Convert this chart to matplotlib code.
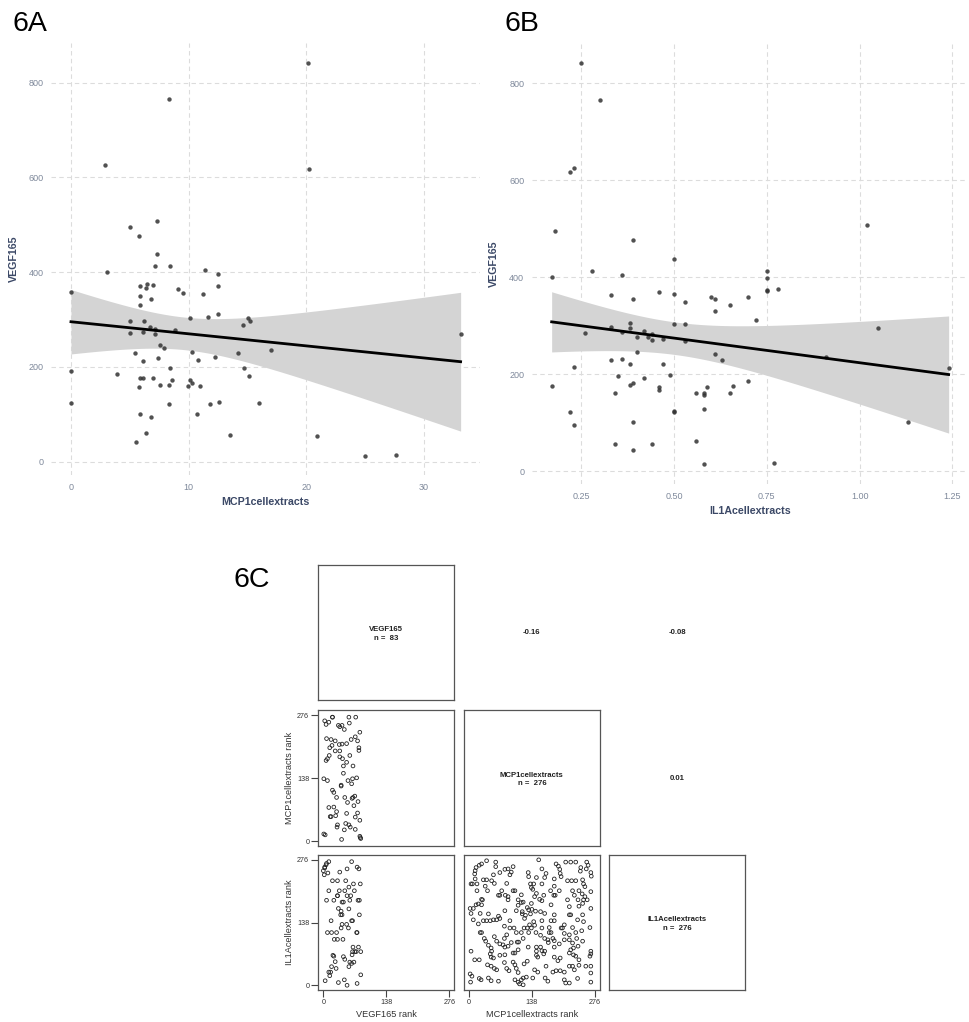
import numpy as np
import matplotlib
matplotlib.use("Agg")
import matplotlib.pyplot as plt

plt.rcParams['font.family'] = ['Liberation Sans', 'DejaVu Sans']

# ---------------- data ----------------
# 6A: MCP1cellextracts vs VEGF165
a_mcp1 = [20.1, 8.3, 2.9, 20.2, 7.3, 5.0, 5.8, 7.3, 7.1, 8.4, 11.4, 3.1, 12.5, 7.0, 6.5, 5.9,
          12.5, 6.4, 9.1, 0.0, 9.5, 11.2, 5.9, 6.8, 5.9, 12.5, 10.1, 11.6, 15.0, 15.2, 5.0, 6.2,
          14.6, 6.7, 7.1, 8.8, 6.1, 5.0, 7.1, 33.1, 7.6, 7.9, 5.4, 10.3, 14.2, 17.0, 7.4, 12.2,
          6.1, 10.8, 8.4, 0.0, 3.9, 14.7, 5.9, 6.1, 7.0, 8.6, 10.1, 10.3, 15.1, 5.8, 7.6, 8.3,
          9.9, 11.0, 0.0, 8.3, 11.8, 12.6, 16.0, 5.9, 10.7, 6.8, 6.4, 13.5, 20.9, 5.5, 25.0, 27.6]
a_vegf = [842, 766, 627, 618, 508, 495, 476, 438, 413, 413, 405, 400, 397, 374, 376, 370,
          370, 366, 364, 359, 357, 354, 350, 343, 331, 312, 303, 305, 303, 298, 296, 296,
          288, 284, 281, 277, 274, 272, 269, 270, 246, 241, 230, 231, 229, 235, 219, 222,
          212, 214, 198, 191, 186, 197, 176, 176, 177, 172, 172, 167, 182, 158, 162, 162,
          159, 159, 125, 121, 121, 127, 124, 101, 101, 94, 61, 56, 55, 42, 13, 15]

# 6B: IL1Acellextracts vs VEGF165
b_il1a = [0.25, 0.30, 0.22, 0.23, 1.02, 0.18, 0.39, 0.50, 0.75, 0.28, 0.36, 0.17, 0.75, 0.78,
          0.75, 0.75, 0.46, 0.33, 0.50, 0.60, 0.70, 0.61, 0.39, 0.53, 0.65, 0.61, 0.72, 0.38,
          0.50, 0.53, 1.05, 0.33, 0.38, 0.26, 0.42, 0.36, 0.44, 0.40, 0.43, 0.44, 0.47, 0.53,
          0.40, 0.61, 0.63, 0.33, 0.36, 0.47, 0.38, 0.91, 0.23, 1.24, 0.35, 0.49, 0.42, 0.70,
          0.39, 0.38, 0.17, 0.46, 0.46, 0.66, 0.59, 0.34, 0.56, 0.58, 0.58, 0.65, 0.50, 0.50,
          0.58, 0.22, 0.23, 0.39, 1.13, 0.56, 0.34, 0.44, 0.39, 0.58, 0.77]
b_vegf = [841, 766, 618, 626, 508, 495, 476, 438, 413, 413, 405, 400, 398, 376, 374, 371,
          370, 364, 365, 359, 359, 354, 356, 349, 343, 331, 312, 305, 303, 303, 296, 297,
          296, 285, 288, 287, 282, 277, 277, 270, 272, 269, 246, 241, 230, 229, 232, 221,
          220, 235, 214, 213, 197, 199, 191, 186, 182, 177, 176, 173, 167, 176, 173, 162,
          160, 162, 156, 160, 124, 121, 127, 121, 94, 102, 102, 61, 55, 56, 43, 14, 16]

# 6C: rank scatter matrix
rank_ticks = [0, 138, 276]
rank_max = 276
c_vars = ['VEGF165', 'MCP1cellextracts', 'IL1Acellextracts']
c_n = [83, 276, 276]
c_corr = {(0, 1): '-0.16', (0, 2): '-0.08', (1, 2): '0.01'}

# VEGF165 rank (x) vs MCP1cellextracts rank (y)
lm_x = [20, 20, 56, 71, 3, 6, 12, 33, 41, 36, 57, 46, 80, 7, 17, 26, 70, 61, 51, 75,
        35, 41, 19, 14, 78, 78, 26, 36, 13, 58, 9, 36, 42, 6, 51, 44, 65, 44, 1, 9,
        54, 64, 73, 39, 39, 62, 20, 23, 29, 47, 69, 65, 63, 53, 76, 67, 12, 23, 29, 15,
        17, 27, 51, 75, 70, 80, 49, 56, 59, 31, 30, 46, 70, 1, 4, 40, 80, 81, 82]
lm_y = [272, 272, 272, 272, 264, 256, 261, 254, 254, 251, 259, 245, 239, 225, 223, 220, 229, 223, 214, 220,
        212, 213, 210, 205, 205, 199, 198, 198, 188, 188, 181, 185, 181, 177, 173, 165, 165, 149, 137, 133,
        133, 137, 139, 123, 121, 126, 112, 107, 96, 96, 99, 96, 94, 85, 87, 78, 74, 75, 65, 54,
        54, 56, 61, 62, 53, 46, 39, 36, 31, 36, 31, 25, 26, 16, 14, 4, 11, 8, 6]

# VEGF165 rank (x) vs IL1Acellextracts rank (y)
lb_x = [12, 7, 6, 3, 3, 0, 2, 10, 36, 52, 62, 74, 78, 20, 31, 49, 66, 81, 56, 12,
        35, 47, 68, 31, 31, 52, 60, 7, 23, 41, 44, 58, 76, 79, 33, 56, 39, 38, 41, 79,
        17, 62, 64, 41, 51, 39, 55, 9, 18, 29, 73, 74, 24, 31, 43, 65, 77, 64, 69, 72,
        82, 63, 21, 23, 44, 47, 26, 58, 67, 62, 56, 18, 28, 12, 16, 14, 4, 33, 46, 52, 74, 82]
lb_y = [272, 268, 265, 260, 258, 252, 243, 247, 249, 256, 272, 260, 256, 230, 230, 230, 223, 223, 216, 208,
        208, 208, 208, 197, 197, 197, 197, 187, 187, 183, 183, 187, 187, 187, 169, 168, 163, 155, 155, 155,
        142, 142, 142, 134, 134, 126, 126, 116, 116, 116, 116, 116, 101, 101, 101, 84, 84, 74, 74, 74,
        74, 67, 66, 64, 63, 57, 52, 51, 51, 48, 41, 41, 37, 29, 29, 21, 10, 6, 12, 0, 4, 23]

# MCP1cellextracts rank (x) vs IL1Acellextracts rank (y)
mb_x = [153, 39, 59, 212, 223, 234, 258, 191, 28, 23, 16, 59, 97, 196, 261, 86, 79, 160, 257, 199,
        245, 14, 13, 68, 130, 93, 54, 90, 200, 267, 244, 169, 268, 131, 148, 166, 14, 32, 39, 50,
        187, 216, 225, 234, 249, 202, 5, 8, 18, 56, 83, 135, 142, 160, 251, 36, 137, 187, 254, 41,
        18, 72, 97, 101, 140, 179, 198, 227, 241, 148, 267, 65, 68, 80, 86, 115, 144, 164, 186, 189,
        231, 248, 254, 28, 30, 86, 108, 115, 119, 155, 160, 216, 239, 251, 259, 137, 249, 16, 21, 28,
        108, 128, 131, 138, 180, 220, 241, 267, 3, 10, 79, 104, 146, 157, 5, 25, 43, 117, 117, 124,
        166, 187, 220, 223, 249, 65, 135, 10, 32, 39, 47, 54, 61, 68, 90, 122, 142, 160, 180, 187,
        238, 251,
        21, 90, 99, 121, 128, 137, 133, 144, 160, 176, 202, 205, 227, 209, 265, 78, 25, 28, 56, 83,
        104, 115, 131, 147, 157, 176, 180, 209, 220, 234, 247, 34, 37, 61, 78, 68, 93, 106, 109, 119,
        166, 173, 184, 187, 209, 220, 236, 249, 198, 227, 174, 43, 49, 75, 79, 86, 130, 148, 157, 160,
        166, 148, 187, 223, 229, 239, 108, 101, 50, 5, 13, 23, 47, 49, 54, 68, 79, 97, 128, 148,
        151, 164, 187, 195, 200, 220, 229, 234, 241, 267, 267, 265, 41, 49, 56, 61, 78, 97, 101, 104,
        83, 88, 121, 144, 151, 169, 184, 191, 200, 209, 220, 227, 231, 241, 256, 267, 108, 3, 7, 23,
        27, 43, 49, 65, 101, 108, 115, 119, 126, 111, 119, 140, 167, 173, 209, 212, 220, 238, 267, 267,
        4]
mb_y = [276, 274, 271, 271, 271, 271, 271, 267, 267, 264, 259, 261, 261, 262, 264, 256, 255, 256, 256, 255,
        259, 252, 245, 248, 248, 249, 243, 243, 246, 248, 251, 246, 240, 239, 237, 237, 234, 232, 232, 230,
        234, 230, 230, 230, 232, 239, 223, 223, 223, 224, 224, 223, 223, 223, 223, 218, 215, 218, 217, 208,
        208, 208, 208, 208, 211, 208, 208, 208, 208, 202, 206, 198, 198, 198, 195, 199, 195, 198, 198, 198,
        198, 201, 195, 189, 188, 188, 188, 182, 183, 189, 186, 188, 188, 188, 188, 180, 180, 177, 179, 177,
        176, 171, 166, 167, 177, 173, 174, 169, 169, 169, 164, 164, 163, 162, 158, 158, 157, 162, 157, 154,
        158, 155, 155, 155, 155, 152, 157, 144, 142, 142, 142, 144, 144, 147, 142, 147, 140, 142, 142, 142,
        144, 140,
        135, 126, 126, 126, 126, 126, 133, 132, 126, 127, 126, 126, 127, 133, 127, 130, 116, 116, 107, 111,
        116, 116, 116, 116, 110, 116, 116, 114, 111, 116, 120, 103, 97, 97, 103, 91, 94, 95, 95, 103,
        103, 100, 103, 98, 100, 100, 103, 97, 91, 93, 94, 88, 82, 89, 84, 86, 84, 84, 84, 76,
        75, 75, 84, 78, 82, 86, 78, 71, 75, 75, 56, 56, 69, 62, 60, 66, 67, 71, 53, 66,
        62, 69, 62, 54, 60, 71, 67, 64, 56, 75, 69, 64, 45, 42, 37, 34, 50, 51, 45, 37,
        37, 32, 47, 34, 29, 42, 29, 32, 32, 29, 42, 42, 34, 44, 42, 42, 28, 25, 20, 15,
        12, 16, 10, 9, 12, 7, 12, 16, 18, 3, 1, 16, 16, 9, 12, 5, 5, 15, 27, 7,
        7]

# ---------------- figure ----------------
W, H = 970, 1022
fig = plt.figure(figsize=(W / 100, H / 100), dpi=100)


def px_axes(l, t, r, b):
    return fig.add_axes([l / W, 1 - b / H, (r - l) / W, (b - t) / H])


TITLE_C = '#3b4866'
TICK_C = '#7f899b'
GRID_C = '#dcdcdc'


def gg_panel(ax, x, y, xticks, xticklabels, yticks, xlabel, ylabel, t_crit=1.99):
    x = np.asarray(x, float)
    y = np.asarray(y, float)
    n = len(x)
    b1, b0 = np.polyfit(x, y, 1)
    resid = y - (b0 + b1 * x)
    s = np.sqrt(np.sum(resid ** 2) / (n - 2))
    xs = np.linspace(x.min(), x.max(), 100)
    yhat = b0 + b1 * xs
    se = s * np.sqrt(1 / n + (xs - x.mean()) ** 2 / np.sum((x - x.mean()) ** 2))
    lo, hi = yhat - t_crit * se, yhat + t_crit * se

    xmin, xmax = x.min(), x.max()
    ymin, ymax = min(y.min(), lo.min()), max(y.max(), hi.max())
    dx, dy = (xmax - xmin) * 0.05, (ymax - ymin) * 0.05
    ax.set_xlim(xmin - dx, xmax + dx)
    ax.set_ylim(ymin - dy, ymax + dy)

    ax.fill_between(xs, lo, hi, color='#d4d4d4', lw=0, zorder=1)
    ax.scatter(x, y, s=10, color='#333333', alpha=0.85, lw=0, zorder=3)
    ax.plot(xs, yhat, color='black', lw=2.0, zorder=4)

    ax.set_xticks(xticks)
    ax.set_xticklabels(xticklabels)
    ax.set_yticks(yticks)
    ax.grid(True, ls=(0, (4, 3)), color=GRID_C, lw=0.8)
    ax.set_axisbelow(True)
    for sp in ax.spines.values():
        sp.set_visible(False)
    ax.tick_params(length=0, labelsize=6.5, labelcolor=TICK_C, pad=5.5)
    ax.set_xlabel(xlabel, fontsize=7.7, fontweight='bold', color=TITLE_C, labelpad=4)
    ax.set_ylabel(ylabel, fontsize=7.7, fontweight='bold', color=TITLE_C, labelpad=7)


axA = px_axes(51.5, 43.2, 480.1, 475.2)
gg_panel(axA, a_mcp1, a_vegf, [0, 10, 20, 30], ['0', '10', '20', '30'],
         [0, 200, 400, 600, 800], 'MCP1cellextracts', 'VEGF165')

axB = px_axes(531.8, 43.4, 968.5, 484.3)
gg_panel(axB, b_il1a, b_vegf, [0.25, 0.50, 0.75, 1.00, 1.25],
         ['0.25', '0.50', '0.75', '1.00', '1.25'],
         [0, 200, 400, 600, 800], 'IL1Acellextracts', 'VEGF165')

fig.text(13 / W, 1 - 31 / H, '6A', fontsize=20.5, va='baseline', ha='left')
fig.text(505 / W, 1 - 31 / H, '6B', fontsize=20.5, va='baseline', ha='left')
fig.text(234 / W, 1 - 587 / H, '6C', fontsize=20.5, va='baseline', ha='left')

# ---------------- 6C scatter matrix ----------------
col_x = [(318.3, 454.3), (463.7, 600.0), (609.4, 745.4)]
row_y = [(565.0, 700.5), (710.3, 846.3), (854.8, 990.3)]
pad = rank_max * 0.04
lims = (-pad, rank_max + pad)
BOX_C = '#555555'

lower_data = {(1, 0): (lm_x, lm_y), (2, 0): (lb_x, lb_y), (2, 1): (mb_x, mb_y)}

for i in range(3):
    for j in range(3):
        (l, r), (t, b) = col_x[j], row_y[i]
        ax = px_axes(l, t, r, b)
        ax.set_xlim(*lims)
        ax.set_ylim(*lims)
        if i < j:
            ax.axis('off')
            ax.text(0.5, 0.5, c_corr[(i, j)], ha='center', va='center',
                    fontsize=5.6, fontweight='bold', color='#222222', transform=ax.transAxes)
            continue
        for sp in ax.spines.values():
            sp.set_color(BOX_C)
            sp.set_linewidth(0.9)
        ax.set_xticks([])
        ax.set_yticks([])
        if i == j:
            ax.text(0.5, 0.49, f'{c_vars[i]}\nn =  {c_n[i]}', ha='center', va='center',
                    fontsize=5.6, fontweight='bold', color='#222222', linespacing=1.3,
                    transform=ax.transAxes)
            continue
        xs, ys = lower_data[(i, j)]
        ax.scatter(xs, ys, s=7, facecolors='none', edgecolors='#222222', linewidths=0.6)
        ax.tick_params(direction='out', length=5, width=0.8, color='#444444',
                       labelsize=5.2, labelcolor='#333333', pad=1.5)
        if j == 0:
            ax.set_yticks(rank_ticks)
            ax.set_yticklabels([str(v) for v in rank_ticks])
            ax.set_ylabel(f'{c_vars[i]} rank', fontsize=6.6, color='#333333', labelpad=2)
        if i == 2:
            ax.set_xticks(rank_ticks)
            ax.set_xticklabels([str(v) for v in rank_ticks])
            ax.set_xlabel(f'{c_vars[j]} rank', fontsize=6.6, color='#333333', labelpad=2.5)

fig.savefig('out.png', dpi=100)
